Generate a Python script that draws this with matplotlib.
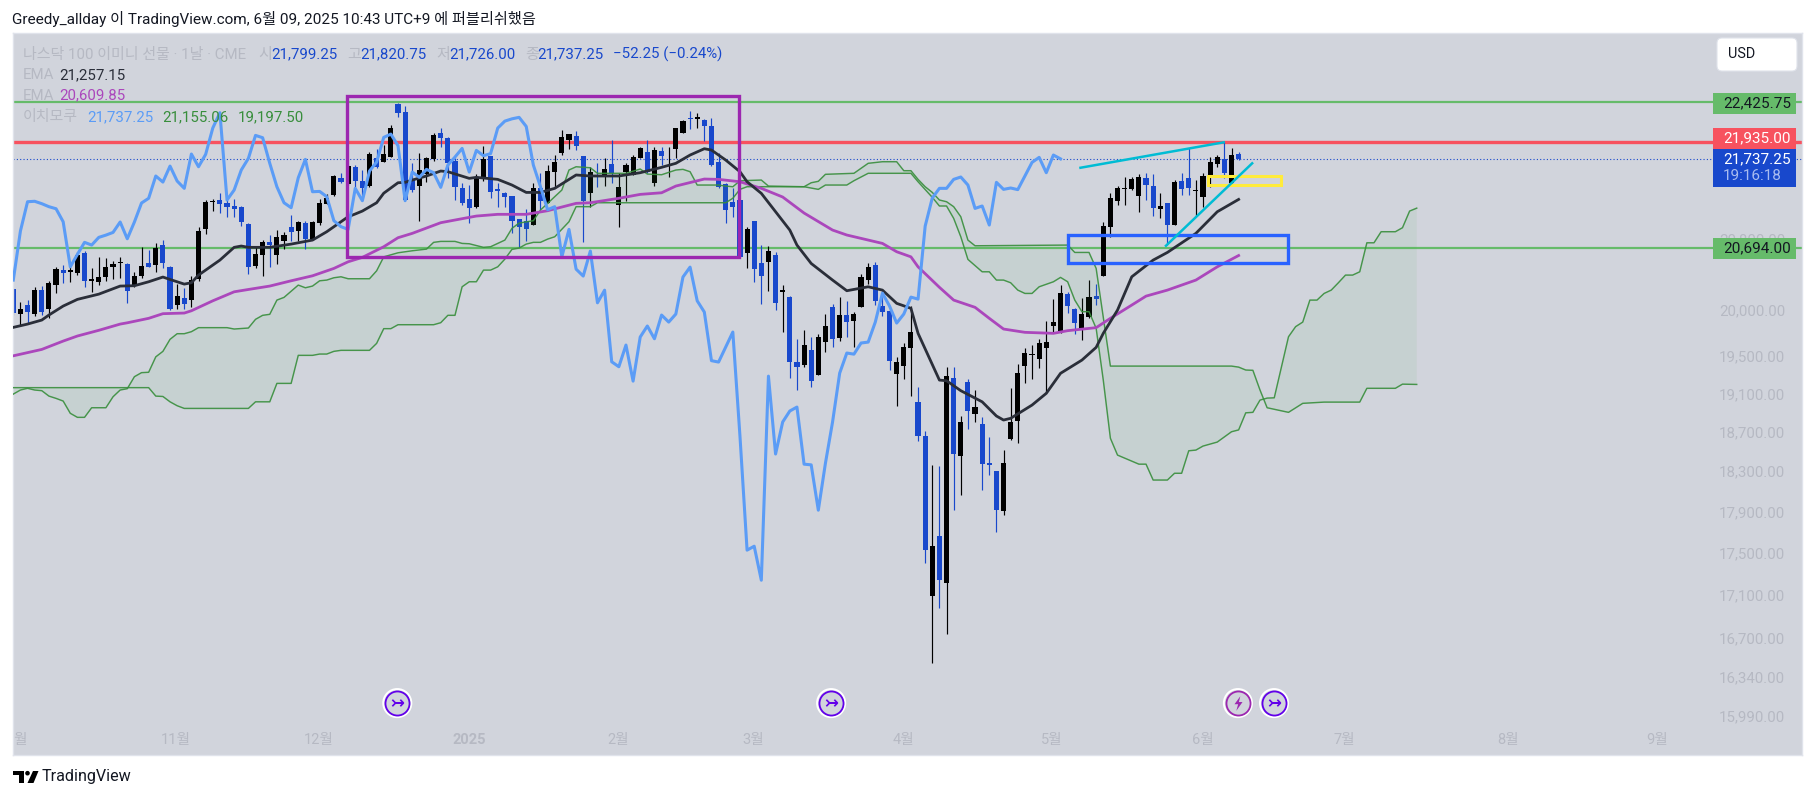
import numpy as np
import matplotlib
matplotlib.use("Agg")
import matplotlib.pyplot as plt
from matplotlib.patches import Rectangle, Circle, Polygon, FancyBboxPatch
from matplotlib.path import Path
from matplotlib.ticker import NullLocator
from matplotlib.transforms import Affine2D

FONT = ['Roboto', 'Noto Sans CJK KR', 'DejaVu Sans']
plt.rcParams['font.family'] = FONT

# ---- data ----
opens = [20229,19960,20055,19960,20221,20014,20281,20445,20423,20415,20638,20322,20311,20370,20482,20524,20513,20266,20378,20524,
 20505,20729,20479,20055,20132,20113,20340,20916,21227,21250,21215,21180,21168,20971,20494,20618,20760,20618,20778,20932,
 20893,20979,20801,20986,21207,21310,21505,21441,21635,21470,21414,21743,21703,21762,22404,22302,21493,21414,21556,21731,
 22045,21988,21707,21387,21258,21172,21517,21771,21375,21328,21297,21025,21009,20963,21387,21218,21584,21803,21968,22012,
 21771,21335,21548,21533,21675,21188,21580,21548,21747,21815,21453,21831,21790,21851,22053,22232,22214,22202,22133,21699,
 21434,21223,21250,20641,21005,20524,20535,20615,20205,20143,19435,19403,19564,19296,19654,20033,19697,19945,19882,20033,
 20333,20501,20044,19989,19308,19392,19589,19011,18659,17083,17657,17208,19264,18454,19222,18887,18783,18380,18303,17902,
 18628,18814,19392,19510,19467,19586,19825,19770,20176,20011,19792,19923,20154,20381,20940,21242,21375,21383,21297,21505,
 21414,21141,21218,20959,21477,21509,21360,21289,21545,21679,21735,21453,21799]
highs = [20240,20085,20110,20258,20265,20318,20482,20498,20520,20653,20661,20464,20589,20577,20547,20589,20520,20419,20706,20672,
 20748,20786,20486,20288,20243,20378,20942,21250,21262,21332,21250,21262,21180,20986,20710,20786,20843,20901,20878,21075,
 21009,21009,21009,21258,21320,21545,21565,21663,21663,21604,21819,21851,21903,22145,22413,22380,21691,21803,21763,22053,
 22113,22004,21743,21445,21426,21556,21891,21771,21445,21347,21297,21025,21141,21445,21565,21663,21783,22085,22036,22073,
 21771,21636,21684,21743,21964,21572,21684,21783,21875,21964,21883,21875,21883,22113,22206,22318,22297,22226,22238,21803,
 21445,21387,21255,20940,21005,20729,20718,20645,20277,20154,19683,19781,19701,19738,19956,20066,20147,20099,19978,20400,
 20520,20535,20221,20008,19491,19636,20044,19166,18710,18363,18353,19385,19385,18865,19254,19138,18855,18649,18303,18516,
 19159,19414,19586,19618,19683,19879,20121,20277,20198,20022,20132,20333,20288,20990,21328,21414,21517,21517,21556,21565,
 21556,21328,21218,21485,21565,21863,21485,21565,21763,21783,21936,21863,21821]
lows = [19950,19828,19860,19937,19948,19909,20191,20303,20314,20385,20258,20202,20279,20325,20348,20352,20080,20252,20356,20482,
 20426,20471,20000,20014,20011,20036,20325,20858,21125,21102,21052,21055,20951,20404,20471,20381,20476,20513,20687,20778,
 20778,20680,20786,20955,21200,21300,21445,21430,21406,21289,21406,21624,21703,21762,22247,21250,21347,21009,21465,21715,
 21875,21505,21250,21191,20986,21152,21477,21277,21172,21172,20870,20703,20778,20959,21133,21211,21406,21783,21859,21843,
 20767,21165,21406,21414,21445,20940,21242,21545,21743,21565,21418,21663,21517,21743,22053,22100,22113,21956,21655,21387,
 20986,21049,20590,20464,20314,20066,20207,20000,19763,19261,19138,19385,19172,19296,19545,19600,19665,19708,19600,20033,
 20288,20055,19934,19350,18970,19254,19077,18611,17394,16462,16972,16729,17912,18060,18731,18804,18112,18262,17696,17863,
 18618,18587,19212,19254,19370,19103,19748,19748,19967,19738,19672,19912,20055,20381,20817,21191,21191,21367,21113,21250,
 21063,21036,20729,20959,21308,21308,21063,21165,21399,21636,21505,21445,21726]
closes = [19963,20011,19975,20221,19978,20296,20456,20412,20445,20611,20325,20344,20367,20479,20509,20532,20214,20378,20490,20482,
 20695,20524,20011,20154,20069,20333,20890,21230,21235,21207,21172,21148,20997,20482,20623,20760,20729,20817,20843,20874,
 20994,20801,20994,21215,21270,21533,21461,21651,21473,21387,21795,21643,21791,22109,22297,21250,21367,21604,21743,22020,
 21992,21684,21406,21218,21160,21512,21731,21347,21351,21289,21009,20940,20909,21387,21242,21592,21699,21996,22036,21895,
 21242,21580,21517,21612,21572,21399,21663,21759,21863,21580,21839,21775,21800,22109,22194,22222,22240,22129,21663,21406,
 21137,21172,20595,20909,20456,20378,20661,20080,20220,19438,19385,19618,19232,19705,19825,19686,19945,19868,19956,20367,
 20479,20102,19978,19450,19435,19596,19759,18660,17522,17560,17234,19285,18475,18804,18918,18959,18372,18365,17912,18382,
 18804,19317,19532,19520,19640,19650,19868,20187,20044,19857,19956,20143,20121,20947,21274,21387,21387,21493,21521,21426,
 21152,21180,20959,21458,21375,21391,21372,21533,21695,21755,21572,21783,21737]

ema_fast_x = [0,2,4,5,7,9,12,15,17,19,21,22,24,25,26,29,31,32,33,36,39,42,44,47,48,49,51,52,54,55,56,58,60,61,64,65,68,70,72,74,76,79,81,85,88,91,93,95,97,98,100,102,103,105,109,110,112,115,117,120,122,124,126,127,130,131,133,136,138,139,140,143,145,147,150,152,153,155,157,160,162,166,169,172]
ema_fast_y = [19810,19846,19890,19945,20044,20118,20176,20266,20270,20314,20367,20340,20288,20303,20389,20558,20703,20718,20703,20703,20740,20786,20882,21055,21087,21121,21218,21330,21453,21458,21485,21533,21592,21584,21505,21517,21493,21426,21339,21339,21387,21545,21533,21533,21572,21636,21684,21783,21859,21843,21723,21584,21465,21328,20901,20729,20520,20333,20214,20258,20221,20074,20019,19745,19243,19236,19131,19014,18866,18824,18842,18980,19103,19315,19456,19593,19745,20000,20370,20558,20645,20863,21113,21257]
ema_slow_x = [0,4,7,9,12,15,16,19,21,24,25,28,31,33,36,39,42,45,47,49,52,54,56,60,62,65,68,72,75,79,81,85,88,91,93,97,99,102,105,108,111,115,117,122,124,126,127,130,132,135,137,139,142,146,148,152,154,157,159,162,166,169,172]
ema_slow_y = [19502,19571,19661,19716,19778,19846,19860,19909,19960,19967,19992,20102,20202,20228,20266,20325,20381,20464,20539,20589,20710,20813,20863,20986,21017,21063,21083,21083,21125,21211,21218,21270,21316,21335,21414,21497,21493,21465,21387,21285,21098,20901,20844,20748,20653,20595,20482,20252,20110,20030,19909,19792,19756,19745,19774,19807,19909,20055,20154,20221,20333,20482,20610]

span1_x = [0,1,2,3,4,5,6,7,8,9,10,11,13,14,15,16,17,18,19,20,21,22,23,24,25,26,30,31,33,34,35,36,37,38,40,41,42,43,44,45,46,47,50,51,52,54,56,58,59,60,62,63,64,66,67,69,70,71,73,74,76,77,78,79,81,82,86,88,89,91,93,94,95,96,99,100,101,102,105,106,111,112,113,114,118,120,122,124,125,126,127,128,129,130,131,132,133,134,135,148,149,151,152,154,171,172,173,174,175,176,179,181,184,189,190,194,195,197]
span1_y = [19095,19138,19156,19138,19131,19074,19050,19022,18894,18852,18852,18952,18952,19067,19138,19152,19279,19322,19326,19491,19550,19680,19741,19741,19763,19807,19807,19792,19803,19898,19942,19953,20110,20140,20277,20247,20266,20325,20333,20359,20370,20348,20348,20437,20595,20641,20664,20683,20760,20771,20771,20748,20744,20703,20710,20786,20921,20982,21009,21133,21289,21367,21604,21643,21631,21565,21565,21616,21556,21548,21604,21612,21584,21426,21426,21414,21406,21477,21485,21414,21406,21453,21470,21553,21565,21684,21703,21703,21596,21596,21493,21406,21339,21250,21230,21172,21055,20786,20721,20729,20645,20645,20464,19392,19392,19381,19350,19347,19138,18952,18904,18998,19011,19011,19156,19156,19200,19197]
span2_x = [0,19,20,21,22,23,24,33,34,36,37,39,40,42,43,44,45,46,50,51,52,53,54,59,60,61,62,63,64,65,66,67,68,69,70,71,72,73,74,75,76,78,79,81,82,100,101,102,103,111,113,114,117,118,120,126,127,129,130,131,132,133,134,136,137,138,139,140,141,142,143,144,146,147,148,149,150,151,152,153,154,155,158,159,160,162,163,164,165,166,167,169,171,172,173,174,175,176,177,179,180,181,182,183,184,185,186,187,188,189,190,191,192,194,195,196,197]
span2_y = [19163,19163,19074,19070,19014,18973,18945,18945,19014,19014,19208,19208,19507,19507,19521,19521,19550,19561,19561,19636,19796,19796,19839,19839,19861,19942,19942,20258,20314,20314,20445,20445,20482,20569,20680,20695,20740,20760,20760,20797,20824,20997,21172,21172,21218,21218,21270,21375,21406,21406,21375,21426,21426,21477,21565,21565,21465,21281,21180,21180,21036,20824,20566,20426,20426,20333,20333,20303,20221,20184,20184,20258,20314,20363,20314,20110,19982,19982,19800,19243,18636,18464,18372,18372,18212,18212,18280,18280,18508,18515,18556,18597,18703,18722,18899,18904,19032,19053,19056,19708,19818,19868,20110,20110,20184,20221,20303,20389,20389,20426,20755,20755,20882,20882,20928,21121,21155]

lagging_shift = 25
level_green_high = 22425.75
level_red = 21935.00
level_last = 21737.25
level_green_low = 20694.00

y_tick_values = [20800, 20000, 19500, 19100, 18700, 18300, 17900, 17500, 17100, 16700, 16340, 15990]
y_tick_labels = ['20,800.00','20,000.00','19,500.00','19,100.00','18,700.00','18,300.00','17,900.00','17,500.00','17,100.00','16,700.00','16,340.00','15,990.00']
x_tick_values = [0.9, 22.84, 42.9, 64.0, 84.9, 103.8, 124.9, 145.8, 167.0, 186.8, 209.8, 230.7]
x_tick_labels = ['월','11월','12월','2025','2월','3월','4월','5월','6월','7월','8월','9월']

purple_box = (46.8, 101.9, 20595, 22507)
blue_box = (148.0, 179.0, 20520, 20843)
yellow_box = (167.7, 178.0, 21426, 21533)
cyan_top_x, cyan_top_y = [149.8, 169.9], [21631, 21936]
cyan_low_x, cyan_low_y = [161.8, 173.9], [20721, 21684]
event_x = [53.9, 114.8, 176.97]
flash_x = [171.9]
event_price = 16106

BG = '#d1d4dc'; GREY = '#b6b9c3'; BLUE = '#1848cc'; GREEN = '#66bb6a'; RED = '#f7525f'
CLOUD = '#388e3c'; LIGHTBLUE = '#5b9cf6'; VIOLET = '#ab47bc'; INK = '#131722'

W, H = 1815, 799
fig = plt.figure(figsize=(W/100, H/100), dpi=100, facecolor='white')
PX = Affine2D().scale(1, -1).translate(0, H)   # pixel frame, origin top-left

L, R, T, B = 12.7, 1802.0, 33.0, 755.0
ax = fig.add_axes([L/W, 1-B/H, (R-L)/W, (B-T)/H], facecolor=BG)
ax.set_yscale('log')
ax.set_xlim(-0.084, 251.08)
ax.set_ylim(15652, 23298)
for s in ax.spines.values():
    s.set_color('#e0e3eb'); s.set_linewidth(1)
ax.yaxis.tick_right()
ax.set_yticks(y_tick_values, y_tick_labels)
ax.yaxis.set_minor_locator(NullLocator()); ax.xaxis.set_minor_locator(NullLocator())
ax.tick_params(axis='y', length=0, pad=-12, labelsize=10.8, labelcolor=GREY)
for t in ax.get_yticklabels():
    t.set_ha('right')
ax.set_xticks(x_tick_values, x_tick_labels)
ax.tick_params(axis='x', length=0, pad=-16, labelsize=10.5, labelcolor=GREY)
for t in ax.get_xticklabels():
    if t.get_text() == '2025':
        t.set_fontweight('bold')

# horizontal levels
ax.axhline(level_green_high, color=GREEN, lw=1.6, zorder=1)
ax.axhline(level_red, color=RED, lw=2.4, zorder=1)
ax.axhline(level_green_low, color=GREEN, lw=1.6, zorder=1)
ax.axhline(level_last, color=BLUE, lw=0.8, ls=(0, (1, 2)), zorder=1)

# candles
idx = np.arange(len(closes))
o, h, l, c = map(np.array, (opens, highs, lows, closes))
cols = np.where(c >= o, '#000000', BLUE)
ax.vlines(idx, l, h, colors=cols, lw=0.85, zorder=2)
ax.bar(idx, np.abs(c-o), bottom=np.minimum(o, c), width=0.72, color=cols, linewidth=0, zorder=2.1)

# cloud
xs = np.r_[span1_x, span2_x[::-1]]
ys = np.r_[span1_y, span2_y[::-1]]
ax.fill(xs, ys, color='#4caf50', alpha=0.08, lw=0, zorder=3)
ax.plot(span1_x, span1_y, color=CLOUD, lw=1.05, alpha=.9, zorder=3.1)
ax.plot(span2_x, span2_y, color=CLOUD, lw=1.05, alpha=.9, zorder=3.1)

# averages and lagging line
ax.plot(ema_slow_x, ema_slow_y, color=VIOLET, lw=2.0, zorder=4, solid_joinstyle='round')
ax.plot(ema_fast_x, ema_fast_y, color='#2a2e39', lw=2.0, zorder=4.1, solid_joinstyle='round')
ax.plot(idx[:-lagging_shift], c[lagging_shift:], color=LIGHTBLUE, lw=2.2, zorder=4.2, solid_joinstyle='round')

# drawings
def box(b, col, lw):
    ax.add_patch(Rectangle((b[0], b[2]), b[1]-b[0], b[3]-b[2], fill=False, ec=col, lw=lw, zorder=5, joinstyle='miter'))
box(purple_box, '#9c27b0', 2.4)
box(blue_box, '#2962ff', 2.4)
box(yellow_box, '#ffeb3b', 2.2)
ax.plot(cyan_top_x, cyan_top_y, color='#00bcd4', lw=1.8, zorder=5)
ax.plot(cyan_low_x, cyan_low_y, color='#00bcd4', lw=1.8, zorder=5)

# event badges
BOLT = Path([(0.25, 1), (-0.55, -0.1), (-0.05, -0.1), (-0.3, -1), (0.55, 0.2), (0.05, 0.2), (0.25, 1)], closed=True)
for xv, col in [(x, '#6200ea') for x in event_x] + [(x, '#9c27b0') for x in flash_x]:
    ax.scatter([xv], [event_price], s=410, facecolor='none', edgecolor='white', lw=1.4, zorder=6)
    ax.scatter([xv], [event_price], s=300, facecolor=BG, edgecolor=col, lw=1.3, zorder=6.1)
for xv in event_x:
    ax.text(xv, event_price, '↣', color='#6200ea', fontsize=12, family='DejaVu Sans', ha='center', va='center', zorder=6.2, fontweight='bold')
for xv in flash_x:
    ax.scatter([xv], [event_price], s=110, marker=BOLT, color='#9c27b0', lw=0, zorder=6.2)

# header and legend
def label(x, y, s, col, size=10.8, **kw):
    fig.text(x, y, s, color=col, fontsize=size, va='center', ha=kw.pop('ha', 'left'), transform=PX, zorder=12, **kw)

label(12, 19, 'Greedy_allday 이 TradingView.com, 6월 09, 2025 10:43 UTC+9 에 퍼블리쉬했음', INK, size=10.98)
label(23, 54.5, '나스닥 100 이미니 선물 · 1날 · CME', GREY)
for x, s in [(258, '시'), (347, '고'), (436, '저'), (525, '종')]:
    label(x, 54.5, s, GREY)
for x, s in [(271, '21,799.25'), (360, '21,820.75'), (449, '21,726.00'), (537, '21,737.25'), (613, '−52.25 (−0.24%)')]:
    label(x, 54.5, s, BLUE)
label(23, 75, 'EMA', GREY); label(59, 75, '21,257.15', '#2a2e39')
label(23, 95.5, 'EMA', GREY); label(59, 95.5, '20,609.85', VIOLET)
label(23, 117, '이치모쿠', GREY)
label(87, 117, '21,737.25', LIGHTBLUE); label(162, 117, '21,155.06', CLOUD); label(238, 117, '19,197.50', CLOUD)

# right-hand chrome
def chip(x0, y0, x1, y1, col):
    fig.add_artist(Rectangle((x0, y0), x1-x0, y1-y0, fc=col, ec='none', transform=PX, zorder=11))
chip(1712.7, 93, 1796, 114, GREEN)
chip(1712.7, 128, 1796, 149, RED)
chip(1712.7, 149, 1796, 187, BLUE)
chip(1712.7, 238, 1796, 259, GREEN)
label(1791, 103.5, f'{level_green_high:,.2f}', INK, ha='right', size=11)
label(1791, 138.5, f'{level_red:,.2f}', 'white', ha='right', size=11)
label(1791, 159, f'{level_last:,.2f}', 'white', ha='right', size=11)
label(1782, 176, '19:16:18', '#a9bcf0', ha='right', size=11)
label(1791, 248.5, f'{level_green_low:,.2f}', INK, ha='right', size=11)
fig.add_artist(FancyBboxPatch((1720, 41), 74, 27, boxstyle='round,pad=3,rounding_size=5', fc='white', ec='#e0e3eb', lw=0.8, transform=PX, zorder=11))
label(1728, 54.5, 'USD', INK, size=10.4)

# footer logo and wordmark
fig.add_artist(Rectangle((13, 771), 10.5, 4.2, fc='#000000', ec='none', transform=PX, zorder=11))
fig.add_artist(Rectangle((18.5, 771), 5, 12, fc='#000000', ec='none', transform=PX, zorder=11))
fig.add_artist(Circle((27.5, 773.2), 2.3, fc='#000000', ec='none', transform=PX, zorder=11))
fig.add_artist(Polygon([(33, 771), (38.5, 771), (33.5, 783), (27.5, 783)], closed=True, fc='#000000', ec='none', transform=PX, zorder=11))
label(42, 777, 'TradingView', INK, size=11.6)

fig.savefig('out.png', dpi=100, facecolor='white')
